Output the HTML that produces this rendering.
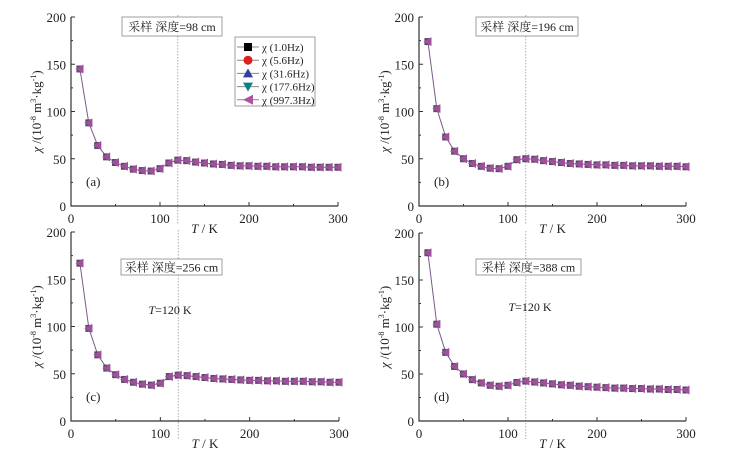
<!DOCTYPE html>
<html><head><meta charset="utf-8"><style>
html,body{margin:0;padding:0;background:#fff;}
svg{display:block;font-family:"Liberation Serif","Noto Serif CJK SC",serif;}
</style></head><body>
<svg id="chart" width="736" height="455" viewBox="0 0 736 455" xmlns="http://www.w3.org/2000/svg"></svg>
<script>
const temps=[10,20,30,40,50,60,70,80,90,100,110,120,130,140,150,160,170,180,190,200,210,220,230,240,250,260,270,280,290,300];
const seriesA=[145,88,64,52,46,42,39,37.5,37,39.5,45.5,48.5,48,46.5,45.5,44.5,44,43,42.5,42.5,42,42,41.5,41.5,41.5,41.5,41,41,41,41];
const seriesB=[174,103,73,58,50,45,42,40,39.5,42,49,50,49.5,48,47,46,45,44.5,44,43.5,43.5,43,43,42.5,42.5,42.5,42,42,42,41.5];
const seriesC=[167,98,70,56,49,44,41,39,38,40,47,48.5,48,47,46,45,44.5,44,43.5,43,43,42.5,42.5,42,42,42,41.5,41.5,41,41];
const seriesD=[179,103,73,58,50,44,40.5,38,37,38,41,42.5,41.5,40.5,39.5,38.5,38,37,36.5,36,35.5,35,35,34.5,34.5,34,34,33.5,33.5,33];
const xTicks=[0,100,200,300];
const yTicks=[0,50,100,150,200];
const legendLabels=["χ (1.0Hz)","χ (5.6Hz)","χ (31.6Hz)","χ (177.6Hz)","χ (997.3Hz)"];
const panels=[
 {id:"a",data:seriesA,x0:71,x1:338,y0:206,y1:17,label:"(a)",depth:"采样 深度=98 cm",box:[122,17,100,19],t120:null},
 {id:"b",data:seriesB,x0:419,x1:686,y0:206,y1:17,label:"(b)",depth:"采样 深度=196 cm",box:[476,17,102,19],t120:null},
 {id:"c",data:seriesC,x0:71,x1:339,y0:421,y1:232,label:"(c)",depth:"采样 深度=256 cm",box:[121,259,101,16],t120:[170,314]},
 {id:"d",data:seriesD,x0:419,x1:686,y0:421,y1:233,label:"(d)",depth:"采样 深度=388 cm",box:[476,259,105,16],t120:[530,311]}
];
const svg=document.getElementById('chart');
const NS="http://www.w3.org/2000/svg";
function mk(tag,attrs,parent){const e=document.createElementNS(NS,tag);for(const k in attrs)e.setAttribute(k,attrs[k]);(parent||svg).appendChild(e);return e;}
const purple="#a0509a";
panels.forEach(p=>{
 const g=mk('g',{});
 
 
 const sx=v=>p.x0+(v/300)*(p.x1-p.x0);
 const sy=v=>p.y0+(v/200)*(p.y1-p.y0);
 const dl=mk('line',{x1:sx(120),x2:sx(120),y1:p.y1-2,y2:p.y0+18,stroke:"#999","stroke-width":0.8,"stroke-dasharray":"1.5,1.5"},g);
 
 
 const ax=mk('path',{d:`M${p.x0} ${p.y1}V${p.y0}H${p.x1}`,stroke:"#333","stroke-width":1.2,fill:"none"},g);
 
 
 xTicks.forEach(t=>{
  mk('line',{x1:sx(t),x2:sx(t),y1:p.y0,y2:p.y0-4,stroke:"#333"},g);
  const tx=mk('text',{x:sx(t),y:p.y0+17,"font-size":13,"text-anchor":"middle",fill:"#222"},g);tx.textContent=t;
  
  
 });
 for(let t=50;t<300;t+=100){mk('line',{x1:sx(t),x2:sx(t),y1:p.y0,y2:p.y0-2,stroke:"#333"},g);}
 yTicks.forEach(t=>{
  mk('line',{x1:p.x0,x2:p.x0+4,y1:sy(t),y2:sy(t),stroke:"#333"},g);
  const tx=mk('text',{x:p.x0-5,y:sy(t)+5,"font-size":13,"text-anchor":"end",fill:"#222"},g);tx.textContent=t;
  
  
 });
 for(let t=25;t<200;t+=50){mk('line',{x1:p.x0,x2:p.x0+2,y1:sy(t),y2:sy(t),stroke:"#333"},g);}
 const xt=mk('text',{x:(p.x0+p.x1)/2,y:p.y0+27,"font-size":13,"text-anchor":"middle",fill:"#222"},g);
 xt.innerHTML='<tspan font-style="italic">T</tspan> / K';
 
 
 const yc=(p.y0+p.y1)/2, yx=p.x0-30;
 const yt=mk('text',{x:yx,y:yc,"font-size":13,"text-anchor":"middle",fill:"#222",transform:`rotate(-90 ${yx} ${yc})`},g);
 yt.innerHTML='<tspan font-style="italic">χ</tspan> /(10<tspan font-size="8" dy="-5">-8</tspan><tspan dy="5"> m</tspan><tspan font-size="8" dy="-5">3</tspan><tspan dy="5">·kg</tspan><tspan font-size="8" dy="-5">-1</tspan><tspan dy="5">)</tspan>';
 
 
 const pl=mk('text',{x:p.x0+15,y:p.y0-20,"font-size":13,fill:"#222"},g);pl.textContent=p.label;
 
 
 const b=p.box;
 const br=mk('rect',{x:b[0],y:b[1],width:b[2],height:b[3],fill:"#fff",stroke:"#888","stroke-width":0.8},g);
 
 
 const bt=mk('text',{x:b[0]+b[2]/2,y:b[1]+b[3]/2+4.5,"font-size":12,"text-anchor":"middle",fill:"#222"},g);bt.textContent=p.depth;
 
 
 if(p.t120){const tt=mk('text',{x:p.t120[0],y:p.t120[1],"font-size":12,"text-anchor":"middle",fill:"#222"},g);tt.innerHTML='<tspan font-style="italic">T</tspan>=120 K';
  
  }
 const pts=temps.map((t,i)=>sx(t)+','+sy(p.data[i])).join(' ');
 const ln=mk('polyline',{points:pts,fill:"none",stroke:"#7a5a8a","stroke-width":1},g);
 
 
 temps.forEach((t,i)=>{
  const x=sx(t),y=sy(p.data[i]);
  const m=mk('rect',{x:x-3.5,y:y-3.5,width:7,height:7,fill:"#5a4a6a"},g);
  
  
  const tr=mk('polygon',{points:`${x-4.5},${y} ${x+3.5},${y-4.5} ${x+3.5},${y+4.5}`,fill:purple},g);
  
  
 });
});
const lg=mk('g',{});


mk('rect',{x:235,y:37,width:80,height:69,fill:"#fff",stroke:"#888","stroke-width":0.8},lg);
const cols=["#000","#e02020","#3040a0","#108080","#b050a0"];
legendLabels.forEach((lab,i)=>{
 const y=47+i*13.2;
 const e=mk('g',{},lg);
 
 
 mk('line',{x1:237,x2:259,y1:y,y2:y,stroke:"#888"},e);
 const c=cols[i];
 if(i==0)mk('rect',{x:244,y:y-4,width:8,height:8,fill:c},e);
 if(i==1)mk('circle',{cx:248,cy:y,r:4.5,fill:c},e);
 if(i==2)mk('polygon',{points:`248,${y-5} 253,${y+4} 243,${y+4}`,fill:c},e);
 if(i==3)mk('polygon',{points:`243,${y-4} 253,${y-4} 248,${y+5}`,fill:c},e);
 if(i==4)mk('polygon',{points:`243,${y} 253,${y-5} 253,${y+5}`,fill:c},e);
 const t=mk('text',{x:262,y:y+4,"font-size":11,fill:"#222"},e);t.textContent=lab;
});
</script>
</body></html>
